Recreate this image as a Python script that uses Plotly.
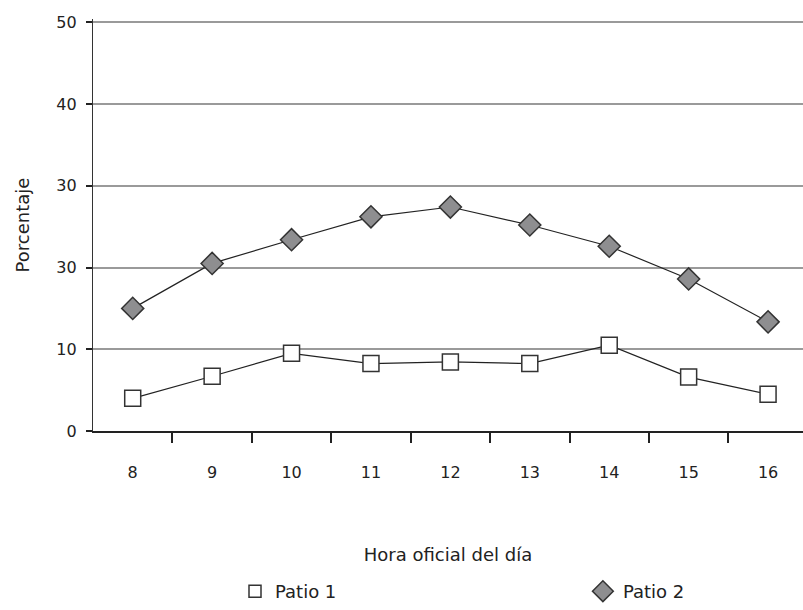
import plotly.graph_objects as go

# Hour of day (categories) and share per courtyard
horas = [8, 9, 10, 11, 12, 13, 14, 15, 16]
patio_1 = [4.0, 6.7, 9.5, 8.25, 8.45, 8.25, 10.5, 6.6, 4.5]
patio_2 = [15.0, 20.5, 23.4, 26.2, 27.4, 25.2, 22.6, 18.6, 13.35]

# Y tick labels as printed on the axis
y_ticks = [0, 10, 20, 30, 40, 50]
y_ticktext = ["0", "10", "30", "30", "40", "50"]

FONT = "DejaVu Sans"
FS_TICK = 16
FS_TEXT = 18
INK = "#222222"
GRID = "#9a9a9a"

fig = go.Figure()

fig.add_trace(go.Scatter(
    x=horas, y=patio_1, mode="lines+markers", name="Patio 1", showlegend=False,
    line=dict(color=INK, width=1.2),
    marker=dict(symbol="square", size=16, color="white", line=dict(color="#333333", width=1.5)),
))
fig.add_trace(go.Scatter(
    x=horas, y=patio_2, mode="lines+markers", name="Patio 2", showlegend=False,
    line=dict(color=INK, width=1.2),
    marker=dict(symbol="diamond", size=17, color="#8e8e90", line=dict(color="#333333", width=1.5)),
))

# Legend entries (markers only), one legend box each
fig.add_trace(go.Scatter(
    x=[None], y=[None], mode="markers", name="Patio 1", legend="legend",
    marker=dict(symbol="square", size=12, color="white", line=dict(color="#333333", width=1.5)),
))
fig.add_trace(go.Scatter(
    x=[None], y=[None], mode="markers", name="Patio 2", legend="legend2",
    marker=dict(symbol="diamond", size=17, color="#8e8e90", line=dict(color="#333333", width=1.5)),
))

# Darker reference lines at 20 and 50
for yv in (20, 50):
    fig.add_shape(type="line", xref="paper", x0=0, x1=1, yref="y", y0=yv, y1=yv,
                  line=dict(color="#333333", width=1), layer="between")

legend_style = dict(orientation="h", xanchor="left", y=-0.39, yanchor="middle",
                    font=dict(family=FONT, size=FS_TEXT, color=INK), bgcolor="rgba(0,0,0,0)")

fig.update_layout(
    width=803, height=610,
    margin=dict(l=93, r=0, t=19, b=175),
    paper_bgcolor="white", plot_bgcolor="white",
    font=dict(family=FONT, size=FS_TICK, color=INK),
    legend=dict(x=0.2, **legend_style),
    legend2=dict(x=0.69, **legend_style),
    xaxis=dict(
        range=[7.5, 16.44], tickvals=horas, ticktext=[str(h) for h in horas],
        ticks="", ticklabelstandoff=26, showgrid=False, zeroline=False,
        showline=True, linecolor=INK, linewidth=2,
        minor=dict(tickvals=[h + 0.5 for h in horas[:-1]], ticks="outside",
                   ticklen=10, tickwidth=2, tickcolor=INK, showgrid=False),
        title=dict(text="Hora oficial del día", standoff=67, font=dict(size=FS_TEXT, color=INK)),
        tickfont=dict(size=FS_TICK, color=INK),
    ),
    yaxis=dict(
        range=[0, 50.4], tickvals=y_ticks, ticktext=y_ticktext,
        ticks="outside", ticklen=6, tickwidth=1.5, tickcolor=INK, ticklabelstandoff=6,
        showgrid=True, gridcolor=GRID, gridwidth=1.5, zeroline=False,
        showline=True, linecolor="#333333", linewidth=1.2,
        title=dict(text="Porcentaje", standoff=22, font=dict(size=FS_TEXT, color=INK)),
        tickfont=dict(size=FS_TICK, color=INK),
    ),
)

fig.write_html("out.html")
